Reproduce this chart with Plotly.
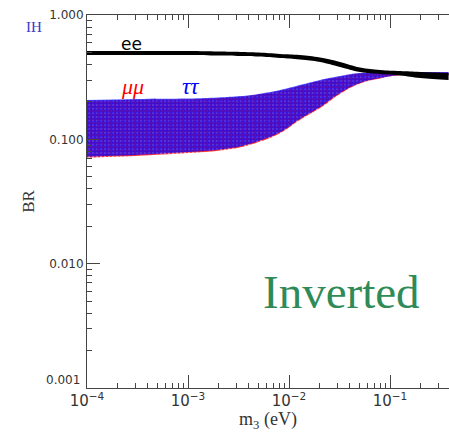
import plotly.graph_objects as go

# lightest neutrino mass grid (eV)
m3 = [1e-4, 3e-4, 1e-3, 2e-3, 3.3e-3, 5e-3, 8.15e-3, 0.0128, 0.0203, 0.032,
      0.0505, 0.080, 0.126, 0.2, 0.38]

# BR(ee) band
ee_hi = [0.513, 0.513, 0.513, 0.508, 0.504, 0.499, 0.486, 0.477, 0.455, 0.419,
         0.378, 0.361, 0.354, 0.348, 0.341]
ee_lo = [0.477, 0.477, 0.477, 0.472, 0.468, 0.463, 0.451, 0.439, 0.419, 0.382,
         0.348, 0.335, 0.326, 0.311, 0.300]

# BR(mu mu) band
mumu_hi = [0.204, 0.208, 0.210, 0.214, 0.220, 0.229, 0.246, 0.269, 0.296, 0.319,
           0.338, 0.343, 0.346, 0.346, 0.346]
mumu_lo = [0.0712, 0.0735, 0.0775, 0.0810, 0.0862, 0.0950, 0.1120, 0.1430, 0.1785, 0.2320,
           0.2810, 0.3090, 0.3270, 0.3260, 0.3260]

# BR(tau tau) band
tautau_hi = [0.207, 0.211, 0.213, 0.217, 0.223, 0.232, 0.249, 0.273, 0.300, 0.323,
             0.341, 0.345, 0.348, 0.348, 0.348]
tautau_lo = [0.0725, 0.0748, 0.0790, 0.0825, 0.0880, 0.0970, 0.1140, 0.1460, 0.1820, 0.2360,
             0.2840, 0.3110, 0.3290, 0.3270, 0.3270]

y_tickvals = [0.001, 0.01, 0.1, 1.0]
y_ticktext = ["", "0.010", "0.100", "1.000"]


def add_band(fig, lo, hi, fillcolor, pattern=None):
    edge = dict(width=0, shape="spline", smoothing=1.2)
    fig.add_trace(go.Scatter(x=m3, y=lo, mode="lines", line=edge,
                             hoverinfo="skip", showlegend=False))
    kw = dict(fillpattern=pattern) if pattern else {}
    fig.add_trace(go.Scatter(x=m3, y=hi, mode="lines", line=edge,
                             fill="tonexty", fillcolor=fillcolor,
                             hoverinfo="skip", showlegend=False, **kw))


fig = go.Figure()

add_band(fig, mumu_lo, mumu_hi, "#ff3030",
         dict(shape=".", fgcolor="#ffffff", bgcolor="#ff2828", size=4, solidity=0.3))
add_band(fig, tautau_lo, tautau_hi, "rgba(0,0,255,0.68)",
         dict(shape=".", fgcolor="#0a0aff", bgcolor="rgba(0,0,255,0.66)", size=3, solidity=0.35))
add_band(fig, ee_lo, ee_hi, "#000000")

axis_common = dict(
    type="log",
    showline=True, linecolor="#444444", linewidth=1,
    ticks="inside", ticklen=13, tickcolor="#444444", tickwidth=1,
    showgrid=False, zeroline=False,
    minor=dict(ticks="inside", ticklen=5, tickcolor="#444444", dtick="D1", showgrid=False),
    tickfont=dict(family="DejaVu Sans", size=12, color="#333333"),
)

fig.update_xaxes(
    **axis_common,
    range=[-4, -0.416], dtick=1, exponentformat="power", showexponent="all",
    mirror="ticks",
    title=dict(text="m<sub>3</sub> (eV)", font=dict(family="Liberation Serif", size=18, color="#333333"), standoff=4),
)
fig.update_yaxes(
    **axis_common,
    range=[-3, 0], tickvals=y_tickvals, ticktext=y_ticktext,
    title=dict(text="BR", font=dict(family="Liberation Serif", size=17, color="#333333"), standoff=10),
)

# bottom y label sits above the corner so it clears the x tick label
fig.add_annotation(xref="paper", yref="paper", x=0, y=0, xanchor="right", yanchor="middle",
                   xshift=-5, yshift=8, text="0.001", showarrow=False,
                   font=dict(family="DejaVu Sans", size=12, color="#333333"))

fig.add_annotation(x=-3.564, y=-0.233, text="ee", showarrow=False,
                   font=dict(family="DejaVu Sans", size=17, color="#000000"))
fig.add_annotation(x=-3.545, y=-0.579, text="<i>μμ</i>", showarrow=False,
                   font=dict(family="Liberation Serif", size=22, color="#ff0000"))
fig.add_annotation(x=-2.98, y=-0.579, text="<i>ττ</i>", showarrow=False,
                   font=dict(family="Liberation Serif", size=23, color="#0000ff"))
fig.add_annotation(x=-1.485, y=-2.228, text="Inverted", showarrow=False,
                   font=dict(family="Liberation Serif", size=47, color="#2e8b57"))
fig.add_annotation(xref="paper", yref="paper", x=0, y=1, xshift=-53, yshift=-12,
                   xanchor="center", yanchor="middle", text="IH", showarrow=False,
                   font=dict(family="Liberation Serif", size=15, color="#3b3bc8"))

fig.update_layout(
    width=449, height=432,
    margin=dict(l=87, r=0, t=15, b=44),
    paper_bgcolor="white", plot_bgcolor="white",
)

fig.write_html("out.html")
